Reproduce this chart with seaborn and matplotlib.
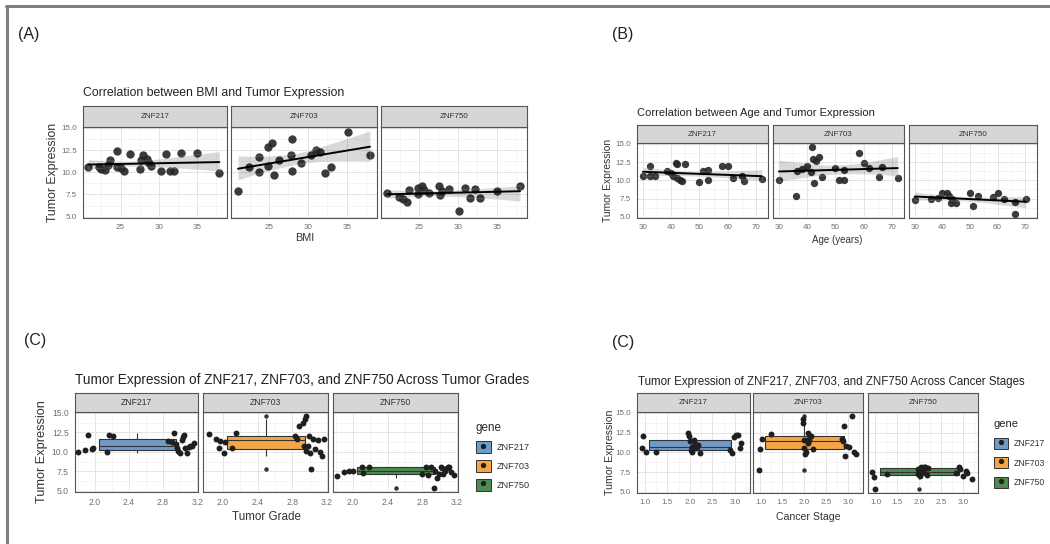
import matplotlib
matplotlib.use('Agg')
import matplotlib.pyplot as plt
from matplotlib.lines import Line2D
from matplotlib.patches import Patch
from matplotlib.ticker import MultipleLocator
import seaborn as sns

genes = ['ZNF217', 'ZNF703', 'ZNF750']
gene_colors = ['#6f9bc8', '#f4a647', '#4f8a50']
y_ticks = [5.0, 7.5, 10.0, 12.5, 15.0]

# (A) BMI vs expression
bmi_217 = [20.8, 22.2, 22.5, 23.0, 23.3, 23.6, 24.6, 24.5, 25.0, 25.5, 26.2, 27.6,
           27.7, 27.9, 28.5, 28.7, 29.0, 30.3, 30.9, 31.5, 32.0, 32.9, 35.0, 37.9]
bmi_expr_217 = [10.6, 10.6, 10.4, 10.3, 10.8, 11.4, 12.4, 10.6, 10.5, 10.1, 12.1, 10.4,
                11.4, 12.0, 11.5, 11.0, 10.7, 10.1, 12.1, 10.1, 10.1, 12.2, 12.2, 9.9]
bmi_703 = [21.0, 22.4, 23.7, 23.7, 24.8, 24.9, 25.4, 25.7, 26.3, 27.8, 27.9, 28.0,
           29.1, 30.4, 31.1, 31.5, 32.2, 33.0, 35.2, 38.0]
bmi_expr_703 = [7.9, 10.6, 11.75, 10.0, 12.9, 10.7, 13.3, 9.7, 11.4, 11.95, 10.1, 13.7,
                11.1, 11.9, 12.5, 12.3, 9.9, 10.6, 14.5, 11.95]
bmi_750 = [20.9, 22.4, 22.9, 23.5, 23.7, 24.8, 24.9, 25.4, 25.6, 26.3, 27.6, 27.7,
           28.0, 28.9, 30.2, 30.9, 31.5, 32.2, 32.9, 35.1, 38.0]
bmi_expr_750 = [7.7, 7.2, 7.0, 6.6, 8.05, 8.2, 7.6, 8.5, 8.05, 7.65, 8.4, 7.45,
                7.9, 8.1, 5.6, 8.2, 7.1, 8.1, 7.1, 7.85, 8.5]

# (B) age vs expression
age_217 = [30.0, 32.6, 32.6, 34.4, 38.5, 40.0, 40.8, 41.7, 41.9, 42.0, 43.0, 43.8,
           45.0, 50.0, 51.2, 52.9, 52.9, 58.0, 60.0, 61.8, 65.0, 65.8, 72.1]
age_expr_217 = [10.6, 12.0, 10.6, 10.6, 11.3, 11.05, 10.6, 12.4, 12.2, 10.3, 10.0, 9.9,
                12.2, 9.8, 11.3, 11.4, 10.0, 11.9, 11.9, 10.3, 10.6, 9.9, 10.2]
age_703 = [30.0, 35.9, 36.5, 38.3, 39.8, 41.2, 41.8, 42.2, 42.4, 43.0, 44.2, 45.4,
           50.0, 51.2, 52.9, 52.9, 58.2, 60.0, 61.8, 65.3, 66.5, 72.1]
age_expr_703 = [10.0, 7.8, 11.3, 11.6, 12.0, 11.2, 14.6, 12.9, 9.7, 12.7, 13.2, 10.5,
                11.7, 10.0, 10.0, 11.4, 13.8, 12.4, 11.7, 10.5, 11.8, 10.3]
age_750 = [30.0, 35.9, 38.3, 40.0, 41.8, 42.4, 43.0, 43.6, 44.8, 50.0, 51.2, 53.0,
           58.3, 60.0, 62.4, 66.5, 66.5, 70.2]
age_expr_750 = [7.25, 7.5, 7.6, 8.3, 8.3, 7.8, 6.9, 7.5, 6.9, 8.3, 6.5, 7.8,
                7.7, 8.2, 7.4, 7.1, 5.4, 7.4]

# (C) expression per patient, with jittered grade and stage positions
expr_217 = [10.0, 10.25, 12.1, 10.3, 10.5, 10.0, 12.2, 12.0, 11.4, 12.4, 10.95, 10.5,
            10.1, 9.9, 11.5, 11.9, 12.2, 10.5, 9.9, 10.6, 10.7, 10.7, 11.1, 11.2]
grade_217 = [1.81, 1.89, 1.92, 1.97, 1.98, 2.14, 2.17, 2.21, 2.86, 2.93, 2.95, 2.97,
             2.98, 3.0, 3.02, 3.04, 3.05, 3.06, 3.08, 3.1, 3.12, 3.14, 3.16, 2.9]
stage_217 = [1.02, 2.89, 0.96, 2.03, 0.94, 1.26, 3.03, 1.98, 2.0, 1.96, 2.19, 2.13,
             2.05, 2.22, 2.08, 2.97, 3.07, 3.11, 2.93, 2.1, 2.04, 2.16, 2.11, 3.14]

expr_703 = [12.3, 11.7, 10.45, 11.4, 11.2, 9.8, 10.5, 12.4, 12.0, 11.7, 13.3, 13.7,
            14.2, 14.6, 10.8, 10.1, 12.0, 10.7, 9.8, 7.8, 11.6, 10.4, 11.5, 10.0, 9.5, 11.6]
grade_703 = [1.84, 1.92, 1.95, 1.97, 2.02, 2.01, 2.1, 2.15, 2.83, 2.85, 2.88, 2.92,
             2.94, 2.96, 2.93, 2.96, 2.99, 2.98, 3.0, 3.01, 3.04, 3.06, 3.1, 3.12, 3.14, 3.16]
stage_703 = [1.24, 1.04, 0.98, 2.88, 2.07, 2.02, 1.98, 2.09, 2.12, 2.85, 2.9, 1.96,
             1.97, 3.07, 2.95, 2.04, 2.15, 3.02, 3.16, 0.97, 2.1, 2.2, 2.06, 3.12, 2.92, 1.99]

expr_750 = [6.9, 7.4, 7.5, 7.6, 8.0, 7.3, 8.1, 8.1, 7.0, 8.0, 5.4, 7.5,
            6.6, 7.1, 8.1, 7.2, 7.6, 7.9, 8.1, 7.4, 7.0, 7.2, 7.9, 8.0]
grade_750 = [1.82, 1.9, 1.95, 2.0, 2.1, 2.12, 2.19, 2.84, 2.87, 2.9, 2.93, 2.95,
             2.97, 2.99, 3.01, 3.04, 3.06, 3.08, 3.11, 3.13, 3.16, 2.8, 3.02, 3.1]
stage_750 = [0.96, 2.84, 0.92, 2.0, 2.05, 1.96, 2.1, 2.9, 2.98, 2.14, 1.0, 2.07,
             3.2, 2.17, 2.03, 1.26, 3.05, 1.97, 2.12, 3.08, 2.02, 1.98, 2.93, 2.2]

W, H = 1050, 544

sns.set_style('white')
plt.rcParams['font.family'] = ['Liberation Sans', 'DejaVu Sans']

fig = plt.figure(figsize=(W / 100, H / 100), dpi=100)


def rect(x0, y0, x1, y1):
    return [x0 / W, 1 - y1 / H, (x1 - x0) / W, (y1 - y0) / H]


def facet_row(cols, strip_top, top, bottom, strip_fs=5.8):
    axes = []
    for i, (x0, x1) in enumerate(cols):
        ax = fig.add_axes(rect(x0, top, x1, bottom))
        strip = fig.add_axes(rect(x0, strip_top, x1, top))
        strip.set_facecolor('#d6d6d6')
        strip.set_xticks([])
        strip.set_yticks([])
        for s in strip.spines.values():
            s.set_color('#555555')
            s.set_linewidth(0.8)
        strip.text(0.5, 0.5, genes[i], ha='center', va='center',
                   fontsize=strip_fs, color='#333333', transform=strip.transAxes)
        axes.append(ax)
    return axes


def style_panel(ax, xlim, xticks, xminor, first, xfmt, tick_fs=5.8):
    ax.set_xlim(*xlim)
    ax.set_ylim(4.85, 15.1)
    ax.set_xticks(xticks)
    ax.set_xticklabels([xfmt.format(t) for t in xticks])
    ax.set_yticks(y_ticks)
    ax.xaxis.set_minor_locator(MultipleLocator(xminor))
    ax.yaxis.set_minor_locator(MultipleLocator(1.25))
    ax.grid(which='major', color='#e4e4e4', lw=0.7)
    ax.grid(which='minor', color='#f0f0f0', lw=0.5)
    ax.set_axisbelow(True)
    ax.tick_params(which='minor', length=0)
    ax.tick_params(which='major', length=2.5, width=0.6, color='#555555',
                   labelsize=tick_fs, labelcolor='#707070', pad=2)
    if first:
        ax.set_yticklabels(['{:.1f}'.format(t) for t in y_ticks])
    else:
        ax.tick_params(axis='y', left=False, labelleft=False)
    for s in ax.spines.values():
        s.set_color('#555555')
        s.set_linewidth(0.8)
    ax.set_xlabel('')
    ax.set_ylabel('')


def reg_panel(ax, x, y, size):
    sns.regplot(x=x, y=y, ax=ax, ci=95, seed=0, color='black',
                scatter_kws=dict(s=size, color='#262626', alpha=0.9, linewidths=0),
                line_kws=dict(color='black', lw=1.4))


def box_panel(ax, x, y, center, width, color):
    sns.boxplot(x=[center] * len(y), y=y, ax=ax, orient='x', native_scale=True,
                width=width, color=color, saturation=1, linecolor='#333333',
                linewidth=0.8, capprops=dict(linewidth=0),
                flierprops=dict(marker='o', markersize=2.2, markerfacecolor='#333333',
                                markeredgecolor='#333333'))
    sns.scatterplot(x=x, y=y, ax=ax, color='#1f1f1f', s=18, linewidth=0, zorder=4)


# frame lines of the composite image
fig.add_artist(Line2D([6 / W, 1], [1 - 6 / H, 1 - 6 / H], color='#7f7f7f', lw=2.2))
fig.add_artist(Line2D([7 / W, 7 / W], [0, 1 - 6 / H], color='#7f7f7f', lw=2.2))

# ---- (A) ----
fig.text(18 / W, 1 - 35 / H, '(A)', fontsize=11.5, va='center', color='#222222')
fig.text(83 / W, 1 - 93 / H, 'Correlation between BMI and Tumor Expression',
         fontsize=8.8, va='center', color='#222222')
axA = facet_row([(83, 227), (231, 377), (381, 527)], 106, 127, 218)
for i, (x, y) in enumerate([(bmi_217, bmi_expr_217), (bmi_703, bmi_expr_703),
                            (bmi_750, bmi_expr_750)]):
    reg_panel(axA[i], x, y, 36)
    style_panel(axA[i], (20.1, 38.9), [25, 30, 35], 2.5, i == 0, '{:d}')
fig.text(305 / W, 1 - 238 / H, 'BMI', fontsize=7.8, ha='center', va='center', color='#333333')
fig.text(53 / W, 1 - 172 / H, 'Tumor Expression', fontsize=8.8, rotation=90,
         ha='center', va='center', color='#333333')

# ---- (B) ----
fig.text(612 / W, 1 - 35 / H, '(B)', fontsize=11.5, va='center', color='#222222')
fig.text(637 / W, 1 - 113 / H, 'Correlation between Age and Tumor Expression',
         fontsize=8.0, va='center', color='#222222')
axB = facet_row([(637, 768), (773, 904), (909, 1037)], 125, 143, 218)
for i, (x, y) in enumerate([(age_217, age_expr_217), (age_703, age_expr_703),
                            (age_750, age_expr_750)]):
    reg_panel(axB[i], x, y, 28)
    style_panel(axB[i], (27.9, 74.3), [30, 40, 50, 60, 70], 5, i == 0, '{:d}')
fig.text(837 / W, 1 - 240 / H, 'Age (years)', fontsize=7.0, ha='center', va='center', color='#333333')
fig.text(608 / W, 1 - 180 / H, 'Tumor Expression', fontsize=7.4, rotation=90,
         ha='center', va='center', color='#333333')

# ---- (C) grade ----
expr_sets = [expr_217, expr_703, expr_750]
fig.text(24 / W, 1 - 341 / H, '(C)', fontsize=11.5, va='center', color='#222222')
fig.text(75 / W, 1 - 380 / H,
         'Tumor Expression of ZNF217, ZNF703, and ZNF750 Across Tumor Grades',
         fontsize=9.8, va='center', color='#222222')
axC = facet_row([(75, 198), (203, 328), (333, 458)], 393, 412, 492, strip_fs=6.2)
for i, x in enumerate([grade_217, grade_703, grade_750]):
    box_panel(axC[i], x, expr_sets[i], 2.5, 0.9, gene_colors[i])
    style_panel(axC[i], (1.77, 3.21), [2.0, 2.4, 2.8, 3.2], 0.2, i == 0, '{:.1f}', tick_fs=6.2)
fig.text(266 / W, 1 - 517 / H, 'Tumor Grade', fontsize=8.4, ha='center', va='center', color='#333333')
fig.text(42 / W, 1 - 452 / H, 'Tumor Expression', fontsize=9.2, rotation=90,
         ha='center', va='center', color='#333333')

# ---- (C) stage ----
fig.text(612 / W, 1 - 343 / H, '(C)', fontsize=11.5, va='center', color='#222222')
fig.text(638 / W, 1 - 382 / H,
         'Tumor Expression of ZNF217, ZNF703, and ZNF750 Across Cancer Stages',
         fontsize=8.3, va='center', color='#222222')
axD = facet_row([(637, 750), (753, 863), (868, 978)], 393, 412, 493)
for i, x in enumerate([stage_217, stage_703, stage_750]):
    box_panel(axD[i], x, expr_sets[i], 2.0, 1.8, gene_colors[i])
    style_panel(axD[i], (0.83, 3.33), [1.0, 1.5, 2.0, 2.5, 3.0], 0.25, i == 0, '{:.1f}')
fig.text(808 / W, 1 - 517 / H, 'Cancer Stage', fontsize=7.6, ha='center', va='center', color='#333333')
fig.text(610 / W, 1 - 452 / H, 'Tumor Expression', fontsize=7.6, rotation=90,
         ha='center', va='center', color='#333333')

# legends
handles = [(Patch(facecolor=c, edgecolor='#333333', lw=0.7),
            Line2D([], [], marker='o', ls='', color='#1f1f1f', ms=2.8)) for c in gene_colors]
for lx, ly, fs, sp in [(476, 422, 6.6, 0.78), (994, 419, 6.2, 1.0)]:
    fig.legend(handles, genes, title='gene', loc='upper left',
               bbox_to_anchor=(lx / W, 1 - ly / H), frameon=False, fontsize=fs,
               title_fontsize=fs + 1.8, alignment='left', handlelength=1.6,
               handleheight=1.6, labelspacing=sp, handletextpad=0.7,
               borderpad=0, borderaxespad=0, labelcolor='#333333')

fig.savefig('out.png', dpi=100)
